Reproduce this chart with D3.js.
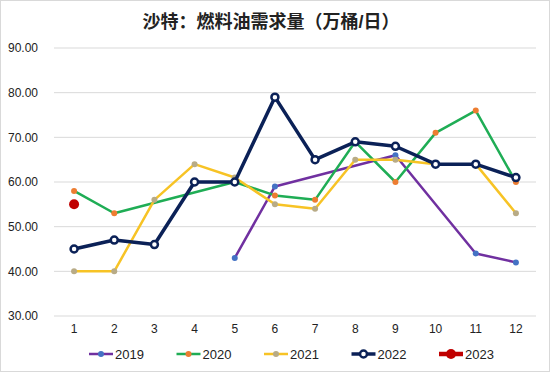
<!DOCTYPE html>
<html>
<head>
<meta charset="utf-8">
<script src="https://cdn.jsdelivr.net/npm/d3@7"></script>
<style>
body { margin: 0; background: #fff; }
text { font-family: "Liberation Sans", Arial, "Noto Sans CJK SC", sans-serif; }
</style>
</head>
<body>
<svg id="chart" width="550" height="373"></svg>
<script>
// values, null = no point that month
var months = ["1","2","3","4","5","6","7","8","9","10","11","12"];
var yTicks = [30, 40, 50, 60, 70, 80, 90];
var s2019 = [null, null, null, null, 43, 59, null, null, 66, null, 44, 42];
var s2020 = [58, 53, null, null, 60, 57, 56, 69, 60, 71, 76, 60];
var s2021 = [40, 40, 56, 64, 61, 55, 54, 65, 65, 64, 64, 53];
var s2022 = [45, 47, 46, 60, 60, 79, 65, 69, 68, 64, 64, 61];
var s2023 = [55, null, null, null, null, null, null, null, null, null, null, null];
var seriesNames = ["2019", "2020", "2021", "2022", "2023"];

var series = [
	{name: "2019", values: s2019, line: "#7030a0", mark: "#4472c4", lw: 2.5, r: 3, hollow: false},
	{name: "2020", values: s2020, line: "#1fad55", mark: "#ed7d31", lw: 2.5, r: 3, hollow: false},
	{name: "2021", values: s2021, line: "#f7c325", mark: "#b8ab86", lw: 2.5, r: 3, hollow: false},
	{name: "2022", values: s2022, line: "#0b2157", mark: "#0b2157", lw: 3.5, r: 3.5, hollow: true},
	{name: "2023", values: s2023, line: "#c00000", mark: "#c00000", lw: 4.5, r: 5, hollow: false}
];

var svg = d3.select("#chart");

svg.append("rect")
	.attr("x", 0.5).attr("y", 0.5)
	.attr("width", 549).attr("height", 371)
	.attr("fill", "#fff")
	.attr("stroke", "#d9d9d9");

svg.append("text")
	.attr("x", 271).attr("y", 28)
	.attr("text-anchor", "middle")
	.attr("font-size", "18px")
	.attr("font-weight", "bold")
	.attr("fill", "#222")
	.text("沙特：燃料油需求量（万桶/日）");

var x = d3.scaleBand().domain(months).range([54, 536]);
var y = d3.scaleLinear().domain([30, 90]).range([316, 48]);

// gridlines
svg.append("g").selectAll("line")
	.data(yTicks)
	.enter().append("line")
	.attr("x1", 54).attr("x2", 536)
	.attr("y1", function(d) { return y(d); })
	.attr("y2", function(d) { return y(d); })
	.attr("stroke", "#d9d9d9")
	.attr("stroke-width", 1);

var yAxis = svg.append("g")
	.attr("transform", "translate(40,0)")
	.call(d3.axisLeft(y).tickValues(yTicks).tickSize(0).tickPadding(0)
		.tickFormat(function(d) { return d.toFixed(2); }));
yAxis.select(".domain").remove();
yAxis.selectAll("text").attr("font-size", "12px").attr("fill", "#222")
	.attr("x", -32).attr("text-anchor", "start");

var xAxis = svg.append("g")
	.attr("transform", "translate(0,316)")
	.call(d3.axisBottom(x).tickSize(0).tickPadding(8));
xAxis.select(".domain").remove();
xAxis.selectAll("text").attr("font-size", "12px").attr("fill", "#222");

var line = d3.line()
	.defined(function(d) { return d.v !== null; })
	.x(function(d) { return x(d.m) + x.bandwidth() / 2; })
	.y(function(d) { return y(d.v); });

series.forEach(function(s) {
	var pts = s.values.map(function(v, i) { return {m: months[i], v: v}; })
		.filter(function(d) { return d.v !== null; });
	var g = svg.append("g");
	g.append("path")
		.datum(pts)
		.attr("d", line)
		.attr("fill", "none")
		.attr("stroke", s.line)
		.attr("stroke-width", s.lw)
		.attr("stroke-linejoin", "round");
	g.selectAll("circle")
		.data(pts)
		.enter().append("circle")
		.attr("cx", function(d) { return x(d.m) + x.bandwidth() / 2; })
		.attr("cy", function(d) { return y(d.v); })
		.attr("r", s.r)
		.attr("fill", s.hollow ? "#fff" : s.mark)
		.attr("stroke", s.hollow ? s.mark : "none")
		.attr("stroke-width", s.hollow ? 2.5 : 0);
});

// legend
var legX = d3.scalePoint().domain(seriesNames).range([89, 439]);
var leg = svg.append("g").selectAll("g")
	.data(series)
	.enter().append("g")
	.attr("transform", function(d) { return "translate(" + legX(d.name) + ",354)"; });
leg.append("line")
	.attr("x1", 0).attr("x2", 24)
	.attr("stroke", function(d) { return d.line; })
	.attr("stroke-width", function(d) { return d.lw; });
leg.append("circle")
	.attr("cx", 12)
	.attr("r", function(d) { return d.r; })
	.attr("fill", function(d) { return d.hollow ? "#fff" : d.mark; })
	.attr("stroke", function(d) { return d.hollow ? d.mark : "none"; })
	.attr("stroke-width", function(d) { return d.hollow ? 2.5 : 0; });
leg.append("text")
	.attr("x", 26).attr("y", 4.5)
	.attr("font-size", "13px")
	.attr("fill", "#222")
	.text(function(d) { return d.name; });
</script>
</body>
</html>
